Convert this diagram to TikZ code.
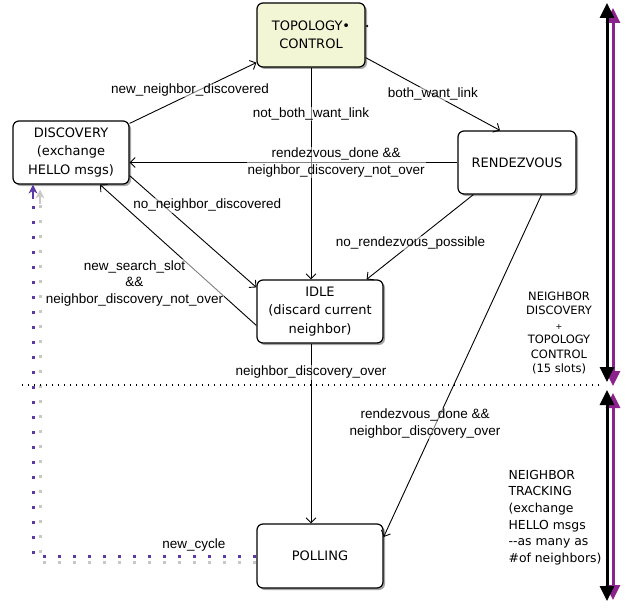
\documentclass[tikz,border=0pt]{standalone}
\usepackage{fontspec}
\setmainfont{Liberation Sans}
\newfontfamily\boxfont{DejaVu Sans}
\usetikzlibrary{arrows.meta,shadows}

\definecolor{topofill}{RGB}{242,246,212}
\definecolor{cyclepurple}{RGB}{92,58,165}
\definecolor{phasepurple}{RGB}{140,35,140}
\definecolor{ghostgray}{RGB}{200,200,200}

\tikzset{
  statebox/.style = {draw, line width=1.2pt, rounded corners=6pt, fill=white, align=center,
                     font=\boxfont\fontsize{13}{18.5}\selectfont,
                     drop shadow={shadow xshift=2pt, shadow yshift=-2pt, fill=black, opacity=0.35}},
  lbl/.style      = {font=\fontsize{13.5}{16.5}\selectfont, align=center, inner sep=1pt, text=black,
                     fill=white, fill opacity=0.5, text opacity=1},
  trans/.style    = {->, line width=0.9pt},
  cycle/.style    = {line width=3pt, dash pattern=on 3pt off 12pt},
  cycletip/.style = {-{Stealth[length=9pt, width=9pt]}, line width=2pt},
  phase/.style    = {{Triangle[length=15pt, width=14pt]}-{Triangle[length=15pt, width=14pt]}, line width=3pt},
  phasetext/.style= {font=\boxfont, inner sep=0pt}
}

\begin{document}
\begin{tikzpicture}[x = 1pt, y = -1pt, >={Straight Barb[length=5pt, width=10pt]}]
                    \useasboundingbox (0,0) rectangle (628,607);

                    \node[statebox, fill = topofill, minimum width = 108pt, minimum height = 64pt] (1) at (311,   35) {TOPOLOGY•\\CONTROL};
                    \node[statebox, minimum width = 116pt, minimum height = 63pt] (2) at ( 71, 152.5) {DISCOVERY\\(exchange\\HELLO msgs)};
                    \node[statebox, minimum width = 118pt, minimum height = 63pt] (3) at (517, 162.5) {RENDEZVOUS};
                    \node[statebox, minimum width = 126pt, minimum height = 63pt] (4) at (320, 311.5) {IDLE\\(discard current\\neighbor)};
                    \node[statebox, minimum width = 126pt, minimum height = 64pt] (5) at (320,  556) {POLLING};

                    \fill ([xshift = 1.5pt, yshift = 9pt]1.east) circle (1.3pt);

                    \draw[trans] ([yshift = -3pt]2.north east) -- node[lbl, xshift = -3pt, yshift = 3pt] {new\_neighbor\_discovered} ([yshift = 5pt]1.south west);
                    \draw[trans] ([yshift = 10pt]1.south east) -- node[lbl] {both\_want\_link} ([xshift = -17pt]3.north);
                    \draw[trans] (1.south) -- node[lbl, pos = 0.22] {not\_both\_want\_link} (1.south |- 4.north);

                    \draw[trans] (3.west) -- node[lbl, pos = 0.37] {rendezvous\_done \&\&\\neighbor\_discovery\_not\_over} ([yshift = -10pt]2.east);
                    \draw[trans] ([yshift = 9pt]2.south east) -- node[lbl, pos = 0.265, xshift = 44pt] {no\_neighbor\_discovered} ([yshift = -8pt]4.north west);
                    \draw[trans] ([yshift = -14pt]4.west) -- node[lbl, pos = 0.3, xshift = -75pt] {new\_search\_slot\\\&\&\\neighbor\_discovery\_not\_over} ([xshift = 29pt]2.south);

                    \draw[trans] ([xshift = 16pt]3.south west) -- node[lbl, pos = 0.57, xshift = -2pt] {no\_rendezvous\_possible} ([xshift = -17pt]4.north east);
                    \draw[trans] ([xshift = -35pt]3.south east) -- node[lbl, pos = 0.668, xshift = -11pt] {rendezvous\_done \&\&\\neighbor\_discovery\_over} ([yshift = 19pt]5.east);
                    \draw[trans] (4.south -| 1.south) -- node[lbl, pos = 0.16] {neighbor\_discovery\_over} (5.north -| 1.south);

                    % new cycle, with its grey ghost
                    \coordinate (g) at ([xshift = -31pt, yshift = -5pt]2.south);
                    \coordinate (h) at ([xshift = -38pt]2.south);
                    \draw[cycle, ghostgray] ([yshift = -6pt]5.west) -| ([yshift = -14pt]g);
                    \draw[cycletip, ghostgray] ([yshift = -14pt]g) -- (g);
                    \draw[cycle, cyclepurple] (5.west) -| node[lbl, pos = 0.14, yshift = 11pt] {new\_cycle} ([yshift = -14pt]h);
                    \draw[cycletip, cyclepurple] ([yshift = -14pt]h) -- (h);

                    % phase separator
                    \draw[line width = 1.3pt, dash pattern = on 1.3pt off 4.7pt] (22,385) -- (602,385);

                    \coordinate (a) at (607,   3);
                    \coordinate (b) at (607, 382);
                    \coordinate (c) at (607, 390);
                    \coordinate (d) at (607, 601);

                    \draw[phase, phasepurple] ([xshift = 6pt, yshift = -5pt]a) -- ([xshift = 6pt, yshift = -4pt]b);
                    \draw[phase] (a) -- (b);
                    \draw[phase, phasepurple] ([xshift = 6pt, yshift = -3pt]c) -- ([xshift = 6pt, yshift = 1pt]d);
                    \draw[phase] (c) -- (d);

                    \node[phasetext, align = center, font = \boxfont\fontsize{11.5}{14.4}\selectfont] (6) at (559,333)
                        {NEIGHBOR\\DISCOVERY\\{\fontsize{8}{14.4}\selectfont +}\\TOPOLOGY\\CONTROL\\(15 slots)};
                    \node[phasetext, align = left, font = \boxfont\fontsize{12.4}{16.6}\selectfont] (7) at (555,517.5)
                        {NEIGHBOR\\TRACKING\\(exchange\\HELLO msgs\\-{}-as many as\\\#of neighbors)};
                \end{tikzpicture}
\end{document}
